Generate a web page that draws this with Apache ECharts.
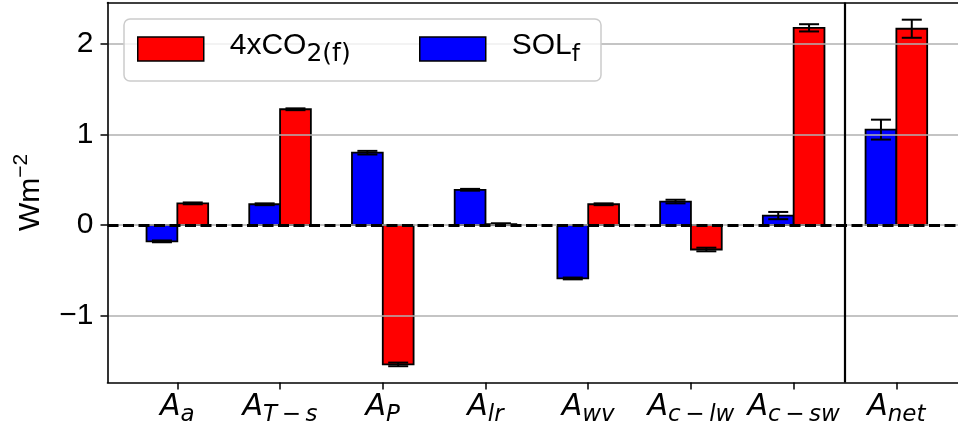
<!DOCTYPE html>
<html>
<head>
<meta charset="utf-8">
<script src="https://cdn.jsdelivr.net/npm/echarts@6/dist/echarts.min.js"></script>
<style>
html,body{margin:0;padding:0;background:#fff;}
#chart{width:958px;height:436px;}
</style>
</head>
<body>
<div id="chart"></div>
<script>
// ---- data ----
const categorySubs = ['a', 'T|s', 'P', 'lr', 'wv', 'c|lw', 'c|sw', 'net'];
const solValues = [-0.18, 0.23, 0.80, 0.39, -0.59, 0.26, 0.105, 1.055];
const solErrors = [0.01, 0.01, 0.02, 0.01, 0.01, 0.02, 0.04, 0.11];
const co2Values = [0.24, 1.28, -1.54, 0.01, 0.23, -0.27, 2.18, 2.17];
const co2Errors = [0.01, 0.01, 0.02, 0.01, 0.01, 0.02, 0.04, 0.10];
const yTicks = [-1, 0, 1, 2];
const xTicks = [0, 1, 2, 3, 4, 5, 6, 7];

const BAR_W = 0.3;

function makeRender(offset) {
  return function (params, api) {
    const i = api.value(0), v = api.value(1), e = api.value(2);
    const p0 = api.coord([i + offset, 0]);
    const p1 = api.coord([i + offset + BAR_W, v]);
    const top = api.coord([i + offset + BAR_W / 2, v + e]);
    const bot = api.coord([i + offset + BAR_W / 2, v - e]);
    const cx = top[0];
    const capHalf = 10;
    return {
      type: 'group',
      children: [
        {
          type: 'rect',
          shape: { x: p0[0], y: Math.min(p0[1], p1[1]), width: p1[0] - p0[0], height: Math.abs(p1[1] - p0[1]) },
          style: { fill: api.visual('color'), stroke: '#000', lineWidth: 1.8 }
        },
        { type: 'line', shape: { x1: cx, y1: top[1], x2: cx, y2: bot[1] }, style: { stroke: '#000', lineWidth: 2 } },
        { type: 'line', shape: { x1: cx - capHalf, y1: top[1], x2: cx + capHalf, y2: top[1] }, style: { stroke: '#000', lineWidth: 2 } },
        { type: 'line', shape: { x1: cx - capHalf, y1: bot[1], x2: cx + capHalf, y2: bot[1] }, style: { stroke: '#000', lineWidth: 2 } }
      ]
    };
  };
}

function subLabel(s) {
  const parts = s.split('|');
  let out = '{A|A}';
  parts.forEach((p, k) => {
    if (k > 0) out += '{m|\u2009\u2212\u2009}';
    out += '{s|' + p + '}';
  });
  return out;
}

const chart = echarts.init(document.getElementById('chart'));
const sansFont = '"Liberation Sans", Arial, sans-serif';
const X_MIN = -0.68, X_MAX = 7.6;

function legendText(subSize) {
  return {
    padding: [0, 0, 0, 21],
    rich: {
      b: { fontFamily: sansFont, fontSize: 30, color: '#000', verticalAlign: 'bottom', padding: [0, 0, 6, 0] },
      sub: { fontFamily: '"DejaVu Sans"', fontSize: subSize, color: '#000', verticalAlign: 'bottom' }
    }
  };
}

chart.setOption({
  animation: false,
  grid: { left: 107.5, right: 0, top: 2.5, bottom: 53.5, show: false },
  graphic: [{
    type: 'rect', z: 50,
    shape: { x: 124, y: 19, width: 477, height: 62, r: 6 },
    style: { fill: 'rgba(255,255,255,0.8)', stroke: '#cccccc', lineWidth: 1.5 }
  }],
  legend: [
    {
      z: 60, selectedMode: false, left: 137, top: 31, itemWidth: 66, itemHeight: 24, padding: 0,
      data: [{ name: '4xCO2', icon: 'rect', itemStyle: { color: '#ff0000', borderColor: '#000', borderWidth: 1.5 } }],
      formatter: function () { return '{b|4xCO}{sub|2(f)}'; },
      textStyle: legendText(25)
    },
    {
      z: 60, selectedMode: false, left: 419, top: 31, itemWidth: 66, itemHeight: 24, padding: 0,
      data: [{ name: 'SOL', icon: 'rect', itemStyle: { color: '#0000ff', borderColor: '#000', borderWidth: 1.5 } }],
      formatter: function () { return '{b|SOL}{sub|f}'; },
      textStyle: legendText(23)
    }
  ],
  xAxis: [
    {
      type: 'value', min: X_MIN, max: X_MAX, position: 'bottom',
      axisLine: { show: true, onZero: false, lineStyle: { color: '#000', width: 1.6 } },
      splitLine: { show: false },
      axisTick: { show: true, customValues: xTicks, length: 7, lineStyle: { color: '#000', width: 1.5 } },
      axisLabel: {
        customValues: xTicks, margin: 10,
        formatter: function (val) { return subLabel(categorySubs[Math.round(val)]); },
        rich: {
          A: { fontFamily: '"DejaVu Sans"', fontStyle: 'italic', fontSize: 30, color: '#000', verticalAlign: 'bottom', padding: [0, 0, 4, 0] },
          s: { fontFamily: '"DejaVu Sans"', fontStyle: 'italic', fontSize: 23, color: '#000', verticalAlign: 'bottom' },
          m: { fontFamily: '"DejaVu Sans"', fontSize: 23, color: '#000', verticalAlign: 'bottom' }
        }
      }
    },
    {
      type: 'value', min: X_MIN, max: X_MAX, position: 'top',
      axisLine: { show: true, onZero: false, lineStyle: { color: '#000', width: 1.6 } },
      splitLine: { show: false }, axisTick: { show: false }, axisLabel: { show: false }
    }
  ],
  yAxis: {
    type: 'value', min: -1.74, max: 2.46, z: 3,
    axisLine: { show: true, onZero: false, lineStyle: { color: '#000', width: 1.6 } },
    axisTick: { show: true, customValues: yTicks, length: 7, lineStyle: { color: '#000', width: 1.5 } },
    axisLabel: {
      customValues: yTicks, margin: 14,
      fontFamily: sansFont, fontSize: 30, color: '#000',
      formatter: function (v) { return v < 0 ? '\u2212' + Math.abs(v) : String(v); }
    },
    splitLine: { show: true, lineStyle: { color: '#b0b0b0', width: 1.5 } },
    name: '{n|Wm}{sup|\u22122}',
    nameLocation: 'middle', nameRotate: 90, nameGap: 62,
    nameTextStyle: {
      rich: {
        n: { fontFamily: sansFont, fontSize: 30, color: '#000', verticalAlign: 'bottom' },
        sup: { fontFamily: sansFont, fontSize: 21, color: '#000', verticalAlign: 'bottom', padding: [0, 0, 14, 0] }
      }
    }
  },
  series: [
    {
      name: 'SOL', type: 'custom', z: 2,
      itemStyle: { color: '#0000ff' },
      renderItem: makeRender(-BAR_W),
      encode: { x: 0, y: 1 },
      data: solValues.map((v, i) => [xTicks[i], v, solErrors[i]])
    },
    {
      name: '4xCO2', type: 'custom', z: 2,
      itemStyle: { color: '#ff0000' },
      renderItem: makeRender(0),
      encode: { x: 0, y: 1 },
      data: co2Values.map((v, i) => [xTicks[i], v, co2Errors[i]])
    },
    {
      name: 'lines', type: 'line', z: 5, data: [], silent: true,
      markLine: {
        silent: true, symbol: 'none', animation: false,
        label: { show: false },
        data: [
          { yAxis: 0, lineStyle: { color: '#000', width: 2.8, type: [11, 4.5] } },
          { xAxis: 6.5, lineStyle: { color: '#000', width: 2.2, type: 'solid' } }
        ]
      }
    }
  ]
});
</script>
</body>
</html>
